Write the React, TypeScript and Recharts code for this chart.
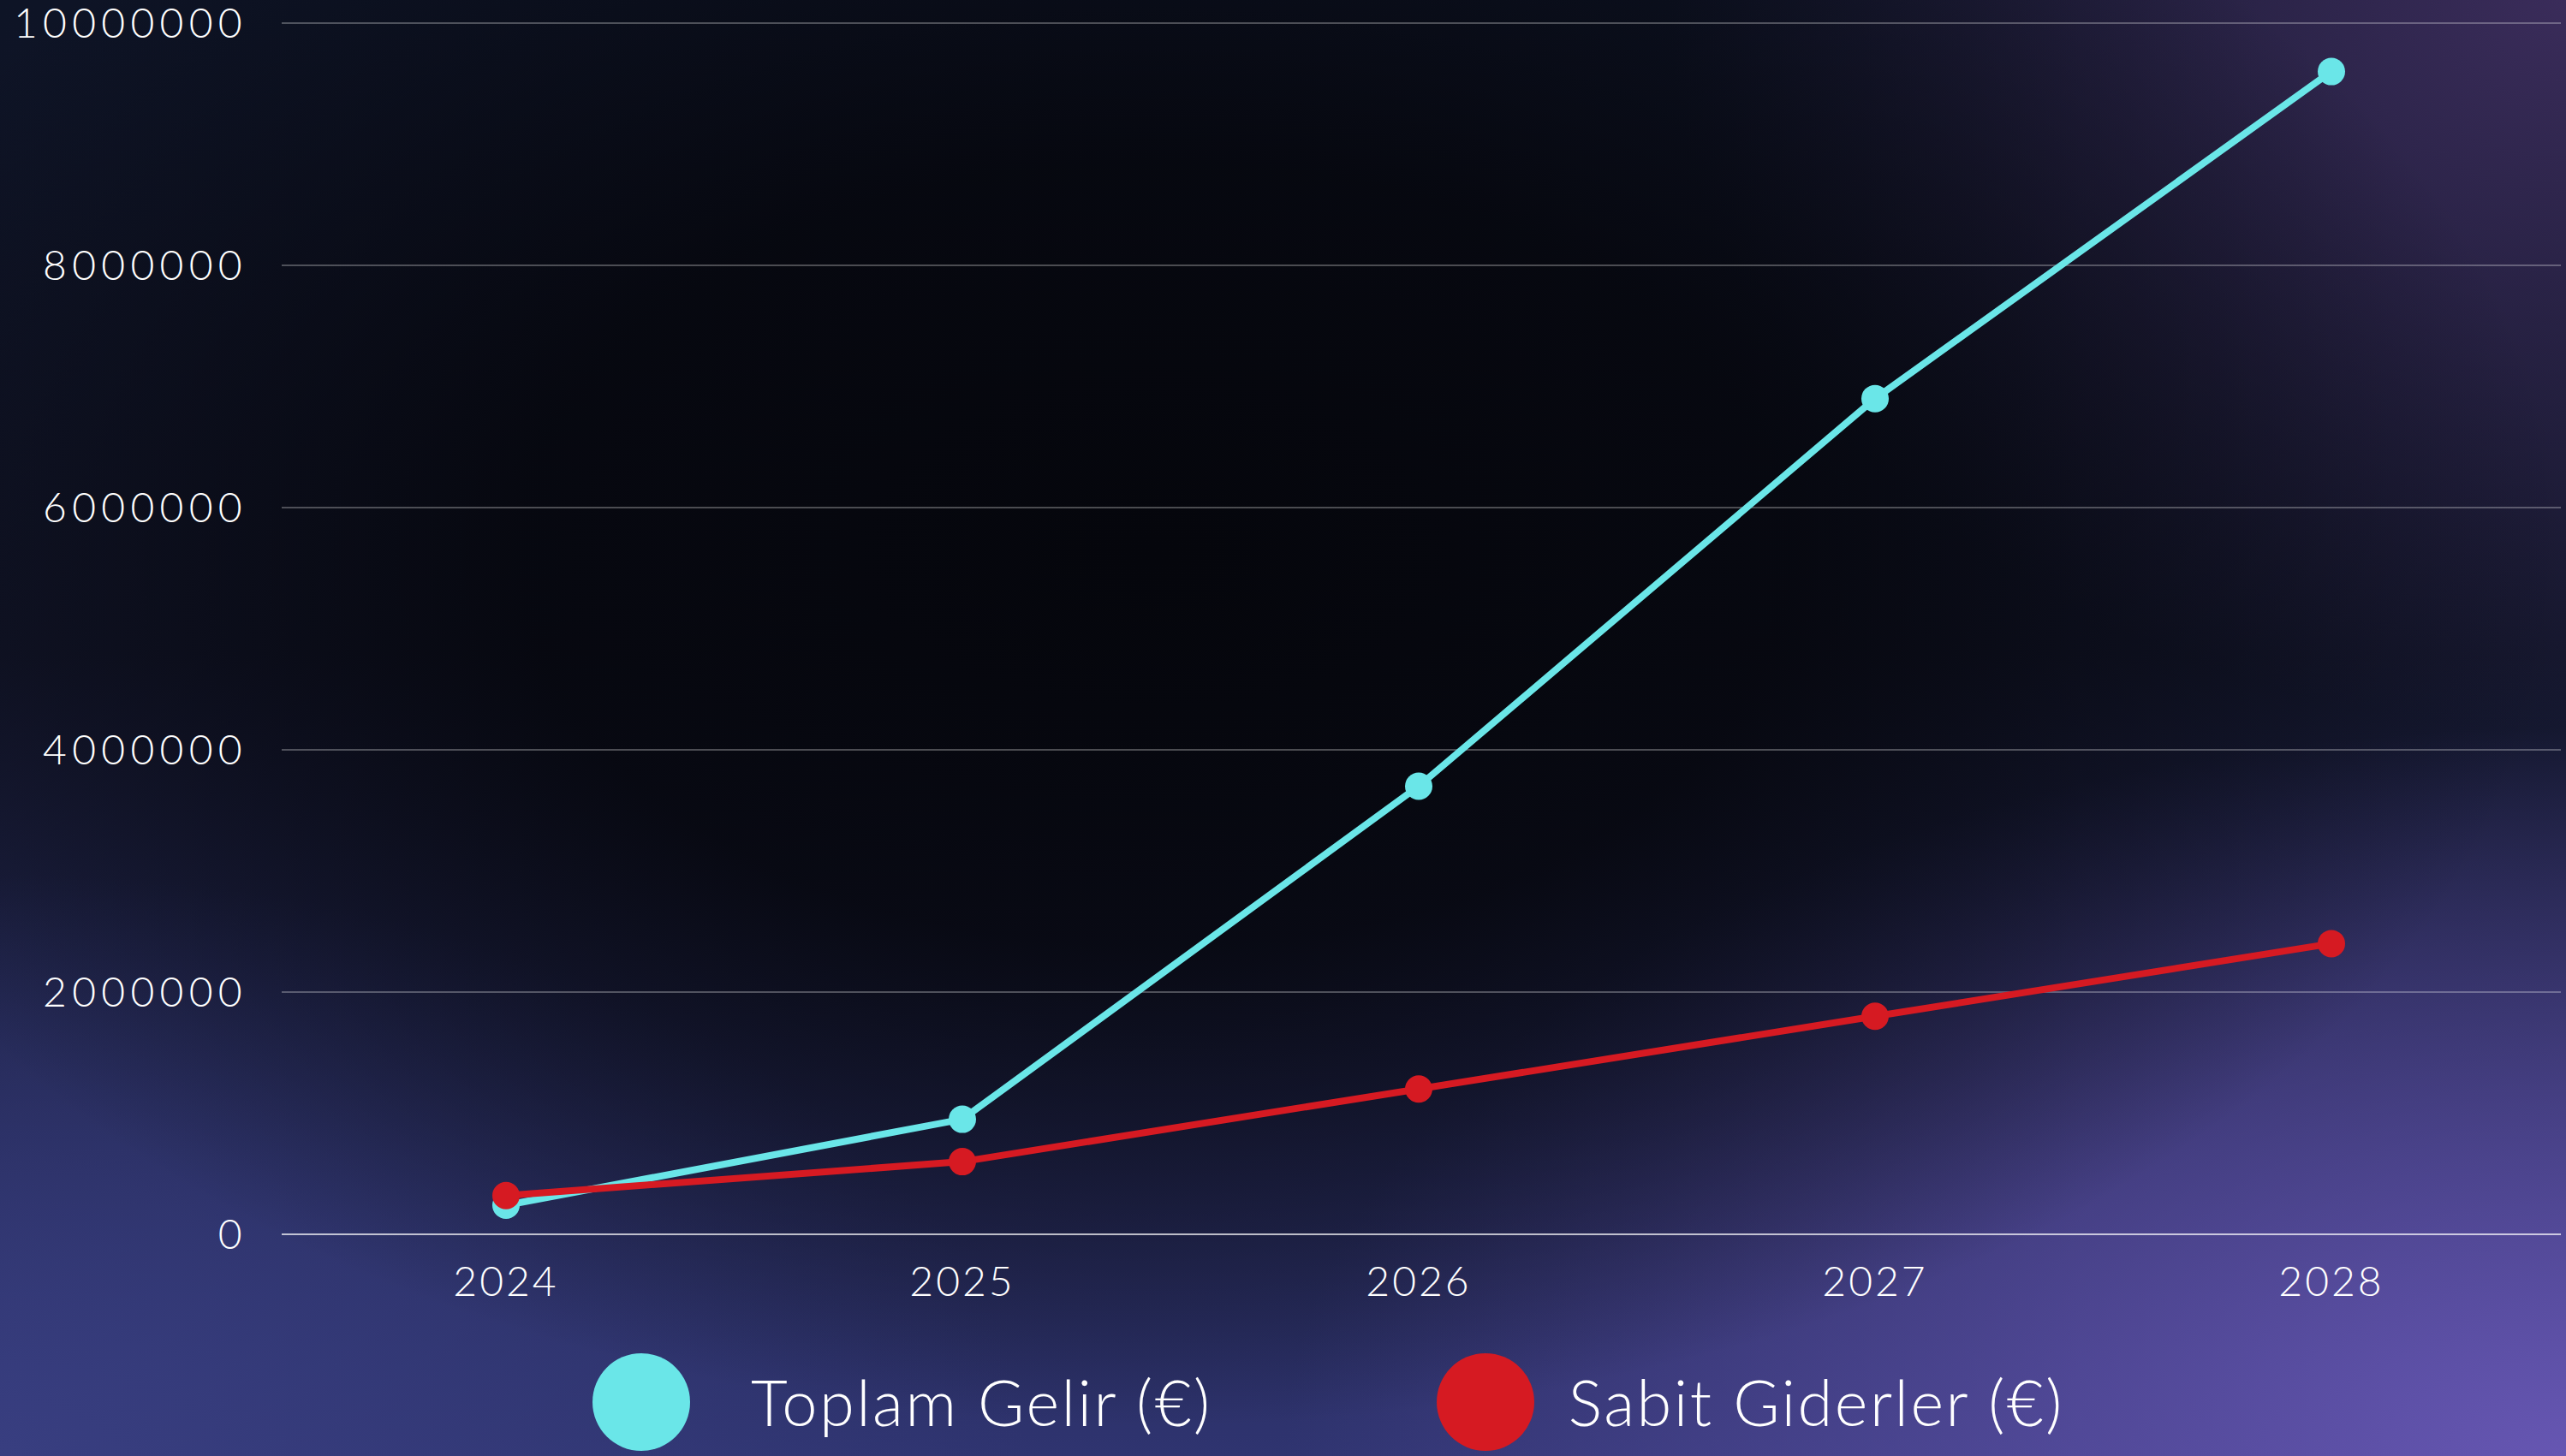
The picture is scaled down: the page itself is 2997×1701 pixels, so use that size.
import React from "react";
import { LineChart, Line, XAxis, YAxis, CartesianGrid } from "recharts";

const years = ["2024", "2025", "2026", "2027", "2028"];
const toplamGelir = [240000, 950000, 3700000, 6900000, 9600000];
const sabitGiderler = [320000, 600000, 1200000, 1800000, 2400000];
const yTicks = [0, 2000000, 4000000, 6000000, 8000000, 10000000];
const seriesNames = ["Toplam Gelir (€)", "Sabit Giderler (€)"];
const seriesColors = ["#6ae6e8", "#d61a22"];

const data = years.map((y, i) => ({ year: y, gelir: toplamGelir[i], gider: sabitGiderler[i] }));

const W = 2997;
const H = 1701;
const FONT = "Lato, 'Open Sans', sans-serif";

const bg = [
  "radial-gradient(ellipse 55% 60% at 45% 38%, rgba(5,6,12,1) 0%, rgba(5,6,12,0.85) 45%, rgba(5,6,12,0) 100%)",
  "radial-gradient(ellipse 50% 50% at 100% 100%, rgba(102,86,178,1) 0%, rgba(102,86,178,0) 100%)",
  "radial-gradient(ellipse 35% 50% at 100% 0%, rgba(58,44,90,1) 0%, rgba(58,44,90,0) 100%)",
  "radial-gradient(ellipse 40% 40% at 0% 100%, rgba(56,62,128,1) 0%, rgba(56,62,128,0) 100%)",
  "linear-gradient(to bottom, #0e1426 0%, #121529 45%, #2f3470 100%)",
].join(", ");

export default function App() {
  const legendKeys = ["gelir", "gider"];
  const textGaps = [71, 40];
  return (
    <div style={{ position: "absolute", left: 0, top: 0, width: W, height: H, background: bg, overflow: "hidden" }}>
      <LineChart width={W} height={H} data={data} margin={{ top: 27, right: 6, left: 0, bottom: 0 }}>
        <CartesianGrid horizontal vertical={false} stroke="rgba(255,255,255,0.28)" strokeWidth={2} />
        <XAxis
          dataKey="year"
          height={259}
          padding={{ left: 262, right: 268 }}
          tickLine={false}
          tickSize={0}
          tickMargin={38}
          axisLine={{ stroke: "rgba(255,255,255,0.6)", strokeWidth: 2 }}
          tick={{ fill: "#ffffff", fontSize: 48, fontFamily: FONT, fontWeight: 300, letterSpacing: 3 }}
        />
        <YAxis
          width={329}
          domain={[0, 10000000]}
          ticks={yTicks}
          interval={0}
          axisLine={false}
          tickLine={false}
          tickSize={0}
          tickMargin={40}
          tick={{ fill: "#ffffff", fontSize: 48, fontFamily: FONT, fontWeight: 300, letterSpacing: 6.3 }}
        />
        <Line
          type="linear"
          dataKey="gelir"
          name={seriesNames[0]}
          stroke={seriesColors[0]}
          strokeWidth={8}
          dot={{ r: 16, fill: seriesColors[0], stroke: "none" }}
          activeDot={false}
          isAnimationActive={false}
        />
        <Line
          type="linear"
          dataKey="gider"
          name={seriesNames[1]}
          stroke={seriesColors[1]}
          strokeWidth={8}
          dot={{ r: 16, fill: seriesColors[1], stroke: "none" }}
          activeDot={false}
          isAnimationActive={false}
        />
      </LineChart>
      <div
        style={{
          position: "absolute",
          left: 692,
          top: 1581,
          height: 114,
          display: "flex",
          alignItems: "center",
          fontFamily: FONT,
          fontWeight: 300,
          color: "#ffffff",
          fontSize: 74,
          letterSpacing: 2.5,
        }}
      >
        {legendKeys.map((k, i) => (
          <div key={k} style={{ display: "flex", alignItems: "center", marginRight: i === 0 ? 262 : 0 }}>
            <div style={{ width: 114, height: 114, borderRadius: "50%", background: seriesColors[i], marginRight: textGaps[i], flexShrink: 0 }} />
            <span style={{ whiteSpace: "nowrap", lineHeight: "114px" }}>{seriesNames[i]}</span>
          </div>
        ))}
      </div>
    </div>
  );
}
